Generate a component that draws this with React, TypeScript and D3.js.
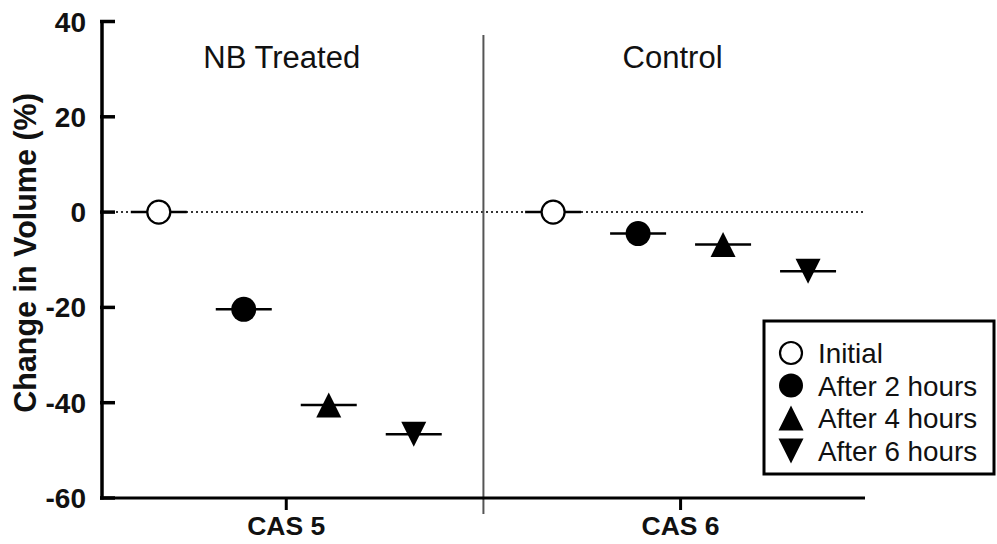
import React from "react";
import * as d3 from "d3";

// Groups and the time points measured in each
const groups = ["CAS 5", "CAS 6"];
const groupTitles = ["NB Treated", "Control"];
const timepoints = ["Initial", "After 2 hours", "After 4 hours", "After 6 hours"];
const cas5Values = [0, -20.4, -40.5, -46.6];
const cas6Values = [0, -4.5, -6.8, -12.4];
const seriesByGroup = [cas5Values, cas6Values];
const yTicks = [40, 20, 0, -20, -40, -60];
const markerKinds = ["openCircle", "circle", "triangleUp", "triangleDown"];

const W = 997;
const H = 544;
const FONT = "'Liberation Sans', Arial, Helvetica, sans-serif";

// Slot layout: points are one slot apart inside a group
const groupOffsets = [0, 4.64];
const dividerSlot = 3.82;
const x = d3.scaleLinear().domain([-0.68, 8.31]).range([101, 865]);
const y = d3.scaleLinear().domain([-60, 40]).range([498, 21.5]);

function Marker({ kind, cx, cy, r = 12.5 }: { kind: string; cx: number; cy: number; r?: number }) {
  if (kind === "openCircle")
    return <circle cx={cx} cy={cy} r={r - 1} fill="#fff" stroke="#000" strokeWidth={2.2} />;
  if (kind === "circle") return <circle cx={cx} cy={cy} r={r} fill="#000" />;
  const hw = 12.5;
  const hh = 12.5;
  const p =
    kind === "triangleUp"
      ? `M${cx},${cy - hh}L${cx + hw},${cy + hh}L${cx - hw},${cy + hh}Z`
      : `M${cx - hw},${cy - hh}L${cx + hw},${cy - hh}L${cx},${cy + hh}Z`;
  return <path d={p} fill="#000" />;
}

export default function App() {
  const [x0, x1] = x.range();
  const yBottom = y(-60);
  const legendRows = [353, 385.5, 418, 451];
  const titleShift = [-4.5, -8];
  return (
    <svg
      width={W}
      height={H}
      style={{ position: "absolute", left: 0, top: 0, background: "#fff" }}
      fontFamily={FONT}
    >
      {/* zero reference line */}
      <line x1={x0} x2={x1} y1={y(0)} y2={y(0)} stroke="#333" strokeWidth={2} strokeDasharray="2,3" />

      {/* group divider */}
      <line x1={x(dividerSlot)} x2={x(dividerSlot)} y1={35} y2={514} stroke="#555" strokeWidth={2} />

      {/* group titles */}
      {groupTitles.map((t, g) => (
        <text
          key={t}
          x={x(groupOffsets[g] + 1.5) + titleShift[g]}
          y={68}
          textAnchor="middle"
          fontSize={31}
          fill="#111"
        >
          {t}
        </text>
      ))}

      {/* y axis */}
      <line x1={102} x2={102} y1={y(40) - 1.5} y2={yBottom + 1.5} stroke="#000" strokeWidth={3.5} />
      {yTicks.map((t) => (
        <g key={t}>
          <line x1={100} x2={115} y1={y(t)} y2={y(t)} stroke="#000" strokeWidth={3.5} />
          <text
            x={86}
            y={y(t)}
            dy="0.36em"
            textAnchor="end"
            fontSize={28}
            fontWeight="bold"
            fill="#111"
          >
            {t}
          </text>
        </g>
      ))}
      <text
        transform={`translate(36,${253}) rotate(-90)`}
        textAnchor="middle"
        fontSize={30.5}
        fontWeight="bold"
        fill="#111"
      >
        Change in Volume (%)
      </text>

      {/* x axis */}
      <line x1={100} x2={x1} y1={yBottom} y2={yBottom} stroke="#000" strokeWidth={3} />
      {groups.map((gname, g) => {
        const cx = x(groupOffsets[g] + 1.5);
        return (
          <g key={gname}>
            <line x1={cx} x2={cx} y1={yBottom} y2={510} stroke="#000" strokeWidth={3} />
            <text x={cx} y={535} textAnchor="middle" fontSize={26.5} fontWeight="bold" fill="#111">
              {gname}
            </text>
          </g>
        );
      })}

      {/* mean lines and markers */}
      {seriesByGroup.map((vals, g) =>
        vals.map((v, i) => {
          const cx = x(groupOffsets[g] + i);
          const cy = y(v);
          return (
            <g key={`${g}-${i}`}>
              <line x1={cx - 28} x2={cx + 28} y1={cy} y2={cy} stroke="#000" strokeWidth={2.5} />
              <Marker kind={markerKinds[i]} cx={cx} cy={cy} />
            </g>
          );
        })
      )}

      {/* legend */}
      <rect x={764} y={321} width={230} height={153} fill="#fff" stroke="#000" strokeWidth={3} />
      {timepoints.map((t, i) => (
        <g key={t}>
          <Marker kind={markerKinds[i]} cx={791} cy={legendRows[i]} r={12} />
          <text x={818} y={legendRows[i]} dy="0.36em" fontSize={27.8} fill="#111">
            {t}
          </text>
        </g>
      ))}
    </svg>
  );
}
